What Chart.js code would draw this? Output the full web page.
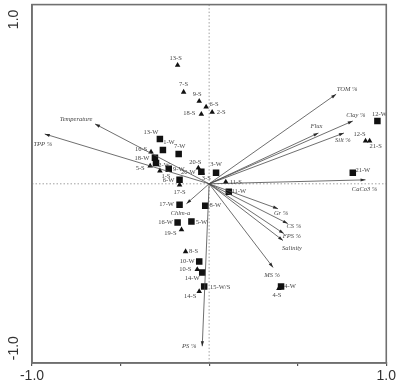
<!DOCTYPE html>
<html><head><meta charset="utf-8">
<script src="https://cdn.jsdelivr.net/npm/chart.js@4/dist/chart.umd.min.js"></script>
<style>html,body{margin:0;padding:0;background:#fff}canvas{display:block}</style>
</head><body>
<canvas id="c" width="398" height="387"></canvas>
<script>
// Wet-season (W) sites — squares
const wLabels = ['13-W','1-W','7-W','18-W','2-W','9-W','20-W','3-W','6-W','11-W','17-W','8-W','16-W','5-W','10-W','14-W','15-W/S','4-W','21-W','12-W'];
const wX = [-0.278,-0.261,-0.172,-0.306,-0.300,-0.228,-0.044,0.039,-0.167,0.111,-0.167,-0.022,-0.178,-0.100,-0.056,-0.039,-0.028,0.406,0.811,0.950];
const wY = [0.273,0.206,0.182,0.158,0.127,0.091,0.073,0.067,0.024,-0.048,-0.127,-0.133,-0.236,-0.230,-0.473,-0.539,-0.624,-0.624,0.067,0.382];
// Summer (S) sites — triangles
const sLabels = ['13-S','7-S','9-S','6-S','2-S','18-S','16-S','5-S','1-S','20-S','3-S','17-S','11-S','12-S','21-S','19-S','8-S','10-S','14-S','4-S'];
const sX = [-0.178,-0.144,-0.056,-0.017,0.017,-0.044,-0.328,-0.333,-0.278,-0.061,-0.039,-0.167,0.094,0.883,0.906,-0.156,-0.133,-0.067,-0.056,0.394];
const sY = [0.721,0.558,0.503,0.467,0.436,0.424,0.194,0.109,0.079,0.097,0.067,-0.006,0.012,0.261,0.261,-0.279,-0.412,-0.521,-0.655,-0.636];
// Environmental variable vectors
const envLabels = ['TPP %','Temperature','TOM %','Clay %','Flux','Silt %','CaCo3 %','Gr %','CS %','FPS %','Salinity','MS %','PS %','Chlm-a'];
const envX = [-0.928,-0.644,0.717,0.811,0.617,0.761,0.883,0.389,0.444,0.422,0.417,0.361,-0.039,-0.128];
const envY = [0.303,0.364,0.545,0.382,0.309,0.309,0.024,-0.152,-0.242,-0.303,-0.345,-0.509,-0.988,-0.121];
const xTickLabels = ['-1.0','1.0'];
const yTickLabels = ['1.0','-1.0'];

// label offsets (layout only)
const wOff = [[-9,-7],[6,-8],[1,-8],[-13,0],[8,2],[10,0],[-13,0],[0,-8],[-11,0],[10,0],[-13,0],[10,0],[-12,0],[10,1],[-12,0],[-10,6],[16,1],[9,0],[10,-2],[2,-7]];
const sOff = [[-2,-7],[0,-8],[-2,-7],[8,-3],[9,0],[-12,-1],[-10,-3],[-10,2],[6,5],[-3,-6],[4,6],[0,8],[10,0],[-6,-7],[6,5],[-11,4],[8,0],[-12,0],[-9,5],[-2,7]];
const eOff = [[-2,10],[-19,-5],[11,-5],[3,-6],[-2,-7],[-1,7],[-1,9],[3,5],[6,3],[8,3],[9,8],[-1,8],[-13,0],[-6,10]];

const datasets = [];
envLabels.forEach((l,i)=>{
  datasets.push({label:l, type:'scatter', showLine:true, data:[{x:0,y:0},{x:envX[i],y:envY[i]}],
    borderColor:'#4a4a4a', borderWidth:0.8, pointRadius:0, isEnv:true});
});
datasets.push({label:'W', data:wX.map((x,i)=>({x:x,y:wY[i]})), pointStyle:'rect', pointRadius:4.6,
  backgroundColor:'#111', borderColor:'#111', borderWidth:0});
datasets.push({label:'S', data:sX.map((x,i)=>({x:x,y:sY[i]})), pointStyle:'triangle', pointRadius:3.2,
  backgroundColor:'#111', borderColor:'#111', borderWidth:0});

const deco = {
  id:'deco',
  beforeDatasetsDraw(chart){
    const {ctx, chartArea:a, scales:{x,y}} = chart;
    ctx.save();
    ctx.strokeStyle='#a0a0a0'; ctx.lineWidth=1; ctx.setLineDash([1.5,2]);
    const x0=x.getPixelForValue(0), y0=y.getPixelForValue(0);
    ctx.beginPath(); ctx.moveTo(x0,a.top); ctx.lineTo(x0,a.bottom); ctx.stroke();
    ctx.beginPath(); ctx.moveTo(a.left,y0); ctx.lineTo(a.right,y0); ctx.stroke();
    ctx.restore();
  },
  afterDatasetsDraw(chart){
    const {ctx, chartArea:a, scales:{x,y}} = chart;
    ctx.save();
    envLabels.forEach((l,i)=>{
      const m = chart.getDatasetMeta(i).data;
      const p0=m[0], p1=m[1];
      const ang=Math.atan2(p1.y-p0.y,p1.x-p0.x);
      ctx.fillStyle='#2a2a2a';
      ctx.beginPath();
      ctx.moveTo(p1.x,p1.y);
      ctx.lineTo(p1.x-5*Math.cos(ang)+1.6*Math.sin(ang), p1.y-5*Math.sin(ang)-1.6*Math.cos(ang));
      ctx.lineTo(p1.x-5*Math.cos(ang)-1.6*Math.sin(ang), p1.y-5*Math.sin(ang)+1.6*Math.cos(ang));
      ctx.closePath(); ctx.fill();
      ctx.font='italic 6.5px "Liberation Serif"';
      ctx.fillStyle='#444'; ctx.textAlign='center'; ctx.textBaseline='middle';
      ctx.fillText(l, p1.x+eOff[i][0], p1.y+eOff[i][1]);
    });
    ctx.font='6.5px "Liberation Serif"'; ctx.fillStyle='#444'; ctx.textAlign='center'; ctx.textBaseline='middle';
    const nE=envLabels.length;
    chart.getDatasetMeta(nE).data.forEach((p,i)=>ctx.fillText(wLabels[i], p.x+wOff[i][0], p.y+wOff[i][1]));
    chart.getDatasetMeta(nE+1).data.forEach((p,i)=>ctx.fillText(sLabels[i], p.x+sOff[i][0], p.y+sOff[i][1]));
    ctx.strokeStyle='#707070'; ctx.lineWidth=1.6;
    ctx.strokeRect(a.left,a.top,a.right-a.left,a.bottom-a.top);
    ctx.font='14px "Liberation Sans"'; ctx.fillStyle='#333';
    [1,-1].forEach((v,i)=>{
      ctx.save();
      ctx.translate(14, y.getPixelForValue(v));
      ctx.rotate(-Math.PI/2);
      ctx.textAlign='center'; ctx.textBaseline='middle';
      ctx.fillText(yTickLabels[i],0,0);
      ctx.restore();
    });
    ctx.restore();
  }
};

new Chart(document.getElementById('c'), {
  type:'scatter',
  data:{datasets},
  options:{
    responsive:false, animation:false, devicePixelRatio:1,
    layout:{padding:{left:0,top:4,right:6,bottom:0}},
    plugins:{legend:{display:false}, tooltip:{enabled:false}},
    scales:{
      x:{min:-1,max:1,
        ticks:{stepSize:0.5, maxRotation:0, autoSkip:false, padding:2, color:'#333',
          font:{family:'Liberation Sans', size:14},
          callback:(v)=> v===-1?xTickLabels[0]:(v===1?xTickLabels[1]:'')},
        grid:{drawOnChartArea:false, drawTicks:true, tickLength:3, color:'#555', lineWidth:1.2},
        border:{display:true, color:'#707070', width:1.6},
        afterFit:(s)=>{s.height=24;}
      },
      y:{min:-1.09,max:1.09,
        ticks:{display:false},
        grid:{display:false},
        border:{display:true, color:'#707070', width:1.6},
        afterFit:(s)=>{s.width=32;}
      }
    }
  },
  plugins:[deco]
});
</script>
</body></html>
